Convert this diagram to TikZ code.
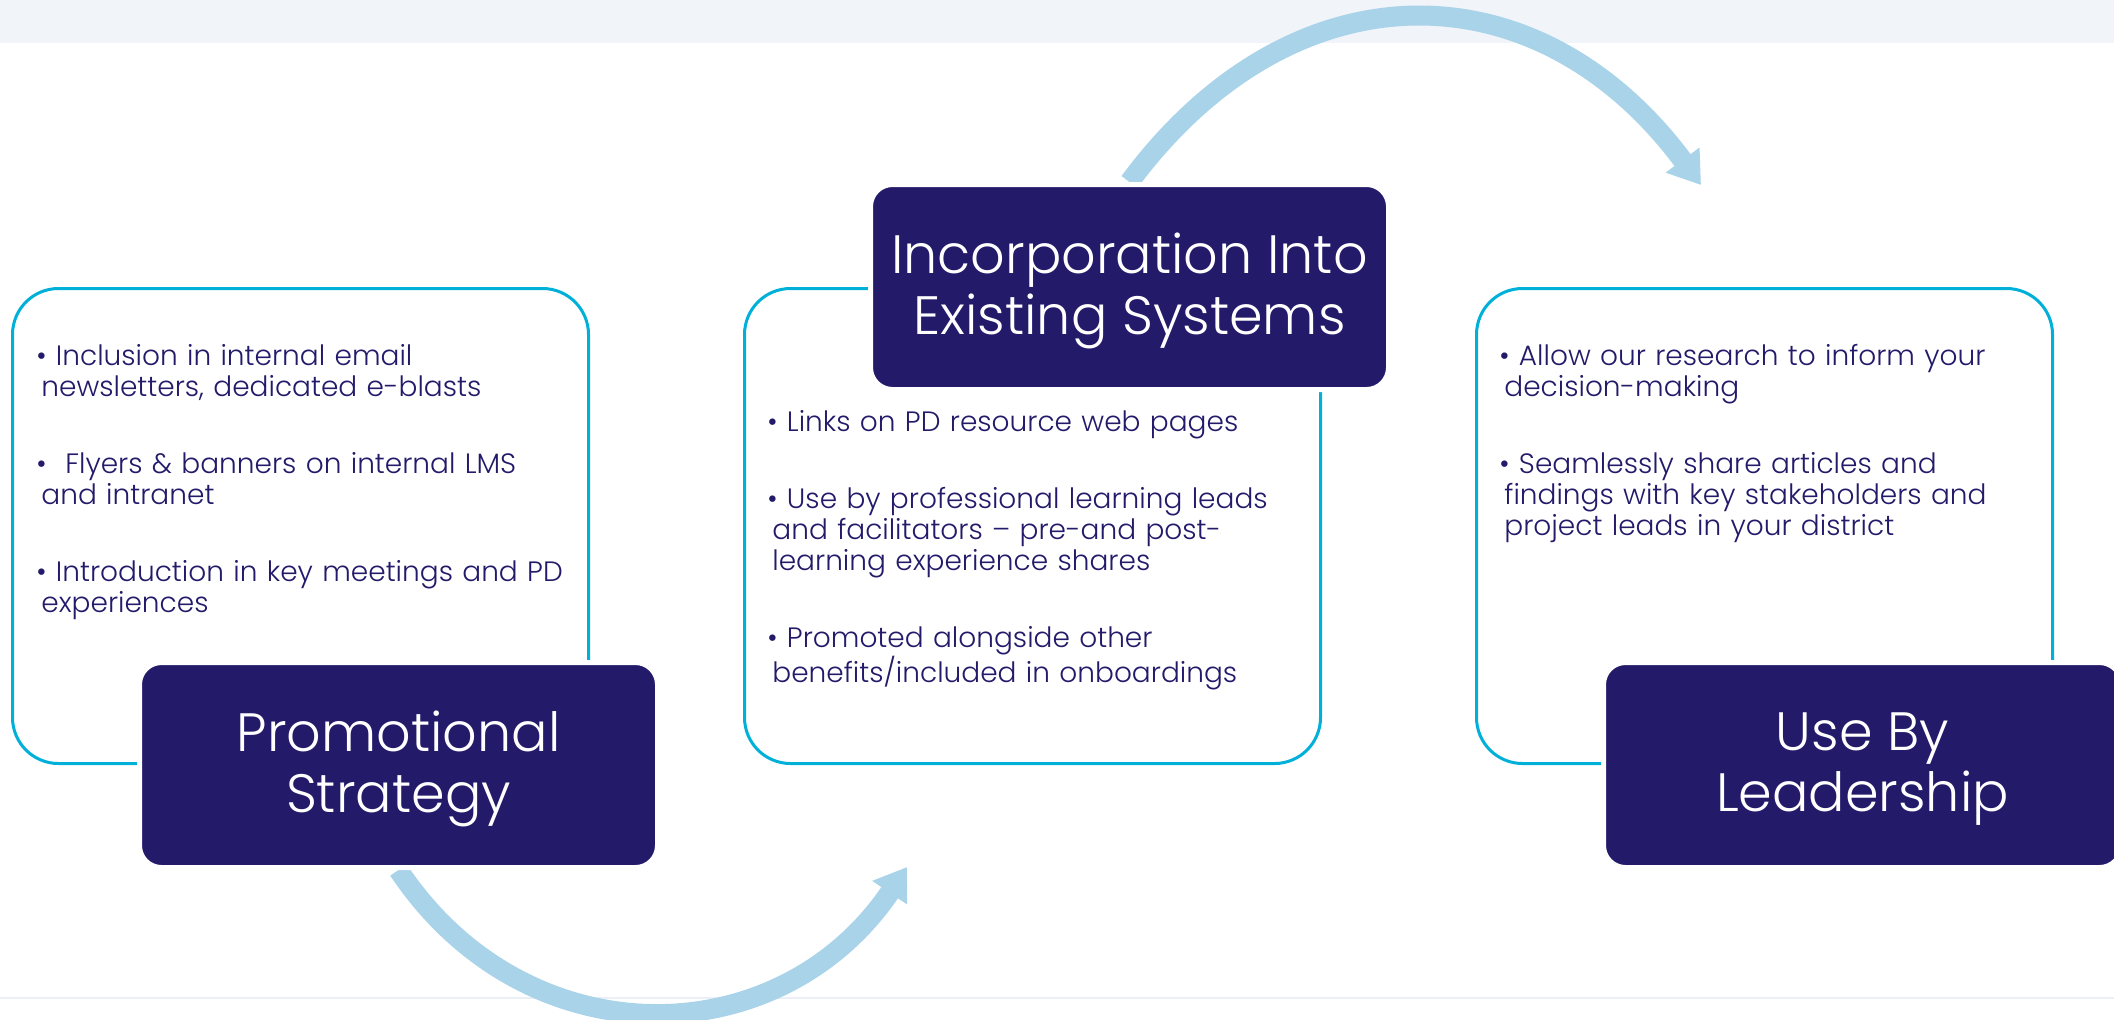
\documentclass[tikz,border=0pt]{standalone}
\usepackage{fontspec}
\setmainfont{Poppins Light}
\usetikzlibrary{positioning,arrows.meta,backgrounds}
\definecolor{navy}{HTML}{231A6A}
\definecolor{rim}{HTML}{00B0D8}
\definecolor{flowblue}{HTML}{A9D3E9}
\definecolor{band}{HTML}{F1F4F9}
\definecolor{rule}{HTML}{EAF0F6}

\begin{document}
\begin{tikzpicture}[x=0.5pt,y=-0.5pt,node distance=366pt,on grid,
    panel/.style={draw=rim,line width=1.5pt,rounded corners=23pt,fill=white,
      minimum width=288pt,minimum height=237.5pt,inner sep=0pt},
    head/.style={fill=navy,draw=white,line width=2.5pt,rounded corners=11pt,
      minimum width=259pt,minimum height=102.5pt,text=white,align=center,
      text depth=3pt,font=\fontsize{27}{30.5}\selectfont},
    bullets/.style={text=navy,text width=300pt,align=left,inner sep=0pt,
      font=\fontsize{14}{15.5}\selectfont},
    flow/.style={draw=flowblue,line width=10pt,-{Triangle[length=15.5pt,width=20pt]}}]
  \useasboundingbox (0,0) rectangle (2114,1019);
  \node[panel] (box_1) at (300.5,526) {};
  \node[panel] (box_2) [right=of box_1] {};
  \node[panel] (box_3) [right=of box_2] {};
  \node[head] (head_1) [below right=119.5pt and 49pt of box_1] {Promotional\\Strategy};
  \node[head] (head_2) [above right=119.5pt and 48.5pt of box_2] {Incorporation Into\\Existing Systems};
  \node[head] (head_3) [below right=119.5pt and 49pt of box_3] {Use By\\Leadership};
  \node[bullets] (list_1) [below right=39pt and 12.5pt of box_1.north west,anchor=base west]
    {• Inclusion in internal email\\
     \hspace*{2.5pt}newsletters, dedicated e-blasts\\[23pt]
     •\ \ Flyers \& banners on internal LMS\\
     \hspace*{2.5pt}and intranet\\[23pt]
     • Introduction in key meetings and PD\\
     \hspace*{2.5pt}experiences};
  \node[bullets] (list_2) [below right=72pt and 12pt of box_2.north west,anchor=base west]
    {• Links on PD resource web pages\\[23pt]
     • Use by professional learning leads\\
     \hspace*{2.5pt}and facilitators – pre-and post-\\
     \hspace*{2.5pt}learning experience shares\\[23pt]
     • Promoted alongside other\\
     \hspace*{2.5pt}benefits/included in onboardings};
  \node[bullets] (list_3) [below right=39pt and 12pt of box_3.north west,anchor=base west]
    {• Allow our research to inform your\\
     \hspace*{2.5pt}decision-making\\[23pt]
     • Seamlessly share articles and\\
     \hspace*{2.5pt}findings with key stakeholders and\\
     \hspace*{2.5pt}project leads in your district};
  \coordinate (tip_1) at (907,867);
  \coordinate (tip_2) at (1701,185);
  \begin{scope}[on background layer]
    \fill[band] (0,0) rectangle (2114,43);
    \draw[rule,line width=1pt] (0,998) -- (2114,998);
    \draw[flow] (head_1.south) .. controls +(127,190.5) and +(-128,189.5) .. (tip_1);
    \draw[flow] (head_2.north) .. controls +(163,-220) and +(-163,-220) .. (tip_2);
  \end{scope}
\end{tikzpicture}
\end{document}
